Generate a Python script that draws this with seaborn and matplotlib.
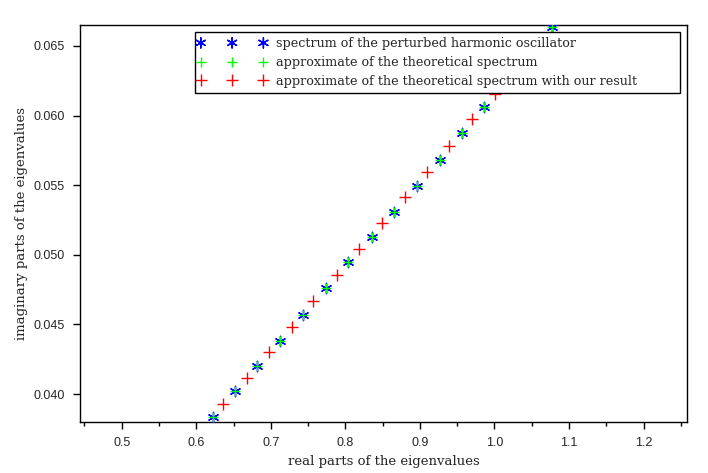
import numpy as np
import pandas as pd
from matplotlib import pyplot as plt
from matplotlib.legend_handler import HandlerPathCollection
from matplotlib.collections import PathCollection
import seaborn as sns

# eigenvalues of the perturbed oscillator (blue) / theoretical approx (green)
re_pert = [0.6221, 0.6521, 0.6820, 0.7125, 0.7438, 0.7742, 0.8042, 0.8356,
           0.8655, 0.8960, 0.9272, 0.9564, 0.9863, 1.0158, 1.0467, 1.0772]
im_pert = [0.03835, 0.04019, 0.04198, 0.04383, 0.04569, 0.04761, 0.04947, 0.05131,
           0.05311, 0.05497, 0.05682, 0.05873, 0.06060, 0.06249, 0.06439, 0.06634]
re_theo = re_pert
im_theo = im_pert
# approximation with our result (red)
re_ours = [0.6364, 0.6686, 0.6977, 0.7282, 0.7572, 0.7886, 0.8189, 0.8490,
           0.8803, 0.9094, 0.9397, 0.9698, 1.0011, 1.0320, 1.0617]
im_ours = [0.03928, 0.04115, 0.04299, 0.04485, 0.04670, 0.04856, 0.05043, 0.05232,
           0.05414, 0.05593, 0.05782, 0.05974, 0.06155, 0.06342, 0.06536]

labels = ["spectrum of the perturbed harmonic oscillator",
          "approximate of the theoretical spectrum",
          "approximate of the theoretical spectrum with our result"]

sns.set_style("white")
plt.rcParams['font.family'] = ['Liberation Sans', 'DejaVu Sans']

fig = plt.figure(figsize=(7.08, 4.73), dpi=100)
ax = fig.add_axes([0.113, 0.108, 0.857, 0.839])

df_p = pd.DataFrame({"re": re_pert, "im": im_pert})
df_t = pd.DataFrame({"re": re_theo, "im": im_theo})
df_o = pd.DataFrame({"re": re_ours, "im": im_ours})

sns.scatterplot(data=df_p, x="re", y="im", ax=ax, marker=(6, 2, 0), s=55,
                color="#0000ff", linewidth=1.0, label=labels[0], zorder=3)
sns.scatterplot(data=df_t, x="re", y="im", ax=ax, marker="+", s=50,
                color="#00ff00", linewidth=1.0, label=labels[1], zorder=4)
sns.scatterplot(data=df_o, x="re", y="im", ax=ax, marker="+", s=75,
                color="#ff0000", linewidth=1.0, label=labels[2], zorder=3)

ax.set_xlim(0.444, 1.258)
ax.set_ylim(0.0380, 0.0665)
ax.set_xticks(np.arange(0.5, 1.21, 0.1))
ax.set_xticks(np.arange(0.45, 1.26, 0.05), minor=True)
ax.set_yticks(np.arange(0.040, 0.0651, 0.005))
ax.xaxis.set_major_formatter(plt.FormatStrFormatter("%.1f"))
ax.yaxis.set_major_formatter(plt.FormatStrFormatter("%.3f"))
ax.tick_params(axis="both", which="both", direction="out", bottom=True, left=True,
               top=False, right=False, labelsize=9, color="black")
ax.tick_params(axis="both", which="major", length=5, width=1, pad=6)
ax.tick_params(axis="x", which="minor", length=3, width=1)
for sp in ax.spines.values():
    sp.set_color("black")
    sp.set_linewidth(1)

ax.set_xlabel("real parts of the eigenvalues", family=["DejaVu Serif"], fontsize=9.5)
ax.set_ylabel("imaginary parts of the eigenvalues", family=["DejaVu Serif"], fontsize=9.5)

# legend box spans roughly x 195..680 px, y 32..95 px of the figure
leg = ax.legend(loc="upper left", bbox_to_anchor=(0.1896, 0.824, 0.799, 0.158),
                mode="expand", scatterpoints=3, scatteryoffsets=[0.5],
                handlelength=5.0, handletextpad=0.9,
                borderpad=0.4, labelspacing=0.45, borderaxespad=0, fancybox=False,
                framealpha=1, edgecolor="black",
                handler_map={PathCollection: HandlerPathCollection(marker_pad=0.05)},
                prop={"family": "DejaVu Serif", "size": 9.2})
leg.get_frame().set_linewidth(1)
leg.set_zorder(10)

fig.savefig("out.png", dpi=100)
